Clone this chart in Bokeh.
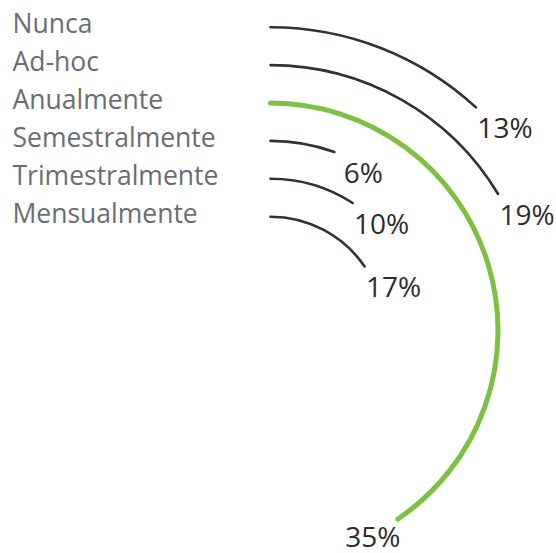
import numpy as np
from bokeh.plotting import figure
from bokeh.models import ColumnDataSource, Range1d
from bokeh.core.properties import value
from bokeh.embed import file_html
from bokeh.resources import INLINE

# ---- data -------------------------------------------------------------
categories = ["Nunca", "Ad-hoc", "Anualmente", "Semestralmente", "Trimestralmente", "Mensualmente"]
pct = [13, 19, 35, 6, 10, 17]                 # printed values (%)
arc_pct = [13, 18, 44.5, 6, 10, 17]           # drawn arc extent (%)
highlight = "Anualmente"

# ---- layout / style ---------------------------------------------------
W, H = 556, 553
DEG_PER_PCT = 3.28
cx, cy = 270.0, 223.0        # centre of the rings (data units == pixels)
r_outer, r_step = 303.3, 37.9
dark, green = "#2e323c", "#7cc142"
label_gray, num_color = "#6a6d72", "#2d2d2d"
FONT = "Open Sans"

n = len(categories)
radius = np.array([r_outer - i * r_step for i in range(n)])
sweep = np.radians(np.array(arc_pct) * DEG_PER_PCT)
start = np.full(n, np.pi / 2)
end = np.pi / 2 - sweep
is_hl = np.array([c == highlight for c in categories])

src = ColumnDataSource(dict(
    x=np.full(n, cx), y=np.full(n, cy), r=radius, start=start, end=end,
    color=[green if h else dark for h in is_hl],
    width=[5.0 if h else 2.6 for h in is_hl],
))

p = figure(width=W, height=H, x_range=Range1d(0, W), y_range=Range1d(0, H),
           output_backend="svg", toolbar_location=None,
           x_axis_location=None, y_axis_location=None, min_border=0)
p.grid.visible = False
p.outline_line_color = None
p.background_fill_color = "white"
p.border_fill_color = "white"

p.arc(x="x", y="y", radius="r", start_angle="start", end_angle="end",
      direction="clock", line_color="color", line_width="width",
      line_cap="round", source=src)

# category labels to the left, aligned with each ring's start
ring_top = cy + radius
lab_src = ColumnDataSource(dict(x=np.full(n, 12.0), y=ring_top + 4, t=categories))
p.text(x="x", y="y", text="t", source=lab_src, text_font=value(FONT),
       text_font_size="26.5px", text_color=label_gray,
       text_align="left", text_baseline="middle")

# percentage labels near each arc end
ex = cx + radius * np.cos(end)
ey = cy + radius * np.sin(end)
dx = np.where(sweep < np.pi / 2, 29.0, -25.0)
ny = np.maximum(ey - 20, 18.0)   # keep the lowest label inside the frame
num_src = ColumnDataSource(dict(x=ex + dx, y=ny, t=[f"{v}%" for v in pct]))
p.text(x="x", y="y", text="t", source=num_src, text_font=value(FONT),
       text_font_size="28px", text_color=num_color,
       text_align="center", text_baseline="middle")

open("out.html", "w").write(file_html(p, INLINE))
